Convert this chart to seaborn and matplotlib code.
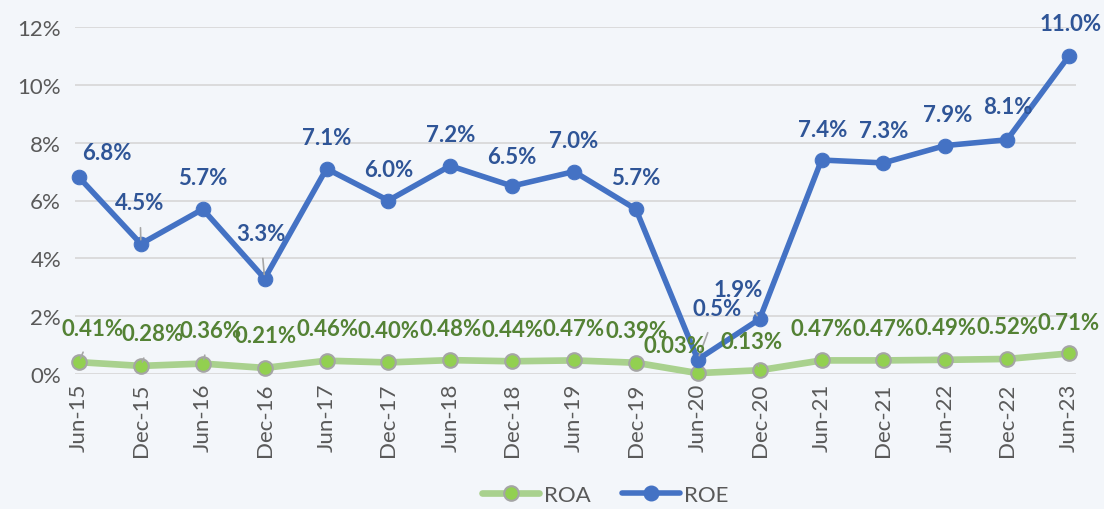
import matplotlib
matplotlib.use("Agg")
import numpy as np
import pandas as pd
import seaborn as sns
import matplotlib.pyplot as plt
from matplotlib.ticker import FuncFormatter
from matplotlib.lines import Line2D

# ---- data ----
periods = ["Jun-15", "Dec-15", "Jun-16", "Dec-16", "Jun-17", "Dec-17", "Jun-18",
           "Dec-18", "Jun-19", "Dec-19", "Jun-20", "Dec-20", "Jun-21", "Dec-21",
           "Jun-22", "Dec-22", "Jun-23"]
roe = [6.8, 4.5, 5.7, 3.3, 7.1, 6.0, 7.2, 6.5, 7.0, 5.7, 0.5, 1.9, 7.4, 7.3, 7.9, 8.1, 11.0]
roa = [0.41, 0.28, 0.36, 0.21, 0.46, 0.40, 0.48, 0.44, 0.47, 0.39, 0.03, 0.13,
       0.47, 0.47, 0.49, 0.52, 0.71]
y_ticks = [0, 2, 4, 6, 8, 10, 12]

# ---- label placement (pixel offsets from point, leader flag) ----
roe_off = [(28, 25, 0), (-1, 41, 1), (0, 32, 0), (-4, 45, 1), (0, 31, 0), (0, 31, 0),
           (0, 31, 0), (0, 30, 0), (0, 31, 0), (0, 32, 0), (19, 51, 1), (-21, 30, 1),
           (1, 31, 0), (0, 32, 0), (2, 31, 0), (1, 33, 0), (2, 32, 0)]
roa_off = [(14, 34, 1), (12, 32, 1), (8, 33, 1), (1, 32, 0), (1, 32, 0), (0, 32, 0),
           (0, 32, 0), (0, 32, 0), (0, 32, 0), (1, 32, 0), (-23, 28, 0), (-8, 29, 1),
           (0, 32, 0), (0, 32, 0), (0, 32, 0), (0, 32, 0), (0, 31, 0)]

BG = "#F3F6FA"
ROE_C = "#4472C4"
ROE_T = "#2F5597"
ROA_L = "#A9D18E"
ROA_M = "#92D050"
ROA_T = "#548235"
GRID = "#D9D9D9"
TICK = "#595959"

sns.set_theme(style="white")
plt.rcParams["font.family"] = ["Lato", "DejaVu Sans"]

df = pd.DataFrame({"x": np.arange(len(periods)), "period": periods,
                   "ROE": roe, "ROA": roa})

fig = plt.figure(figsize=(11.04, 5.10), dpi=100, facecolor=BG)
ax = fig.add_axes([75 / 1104, 1 - 375 / 510, (1076 - 75) / 1104, (375 - 28) / 510])
ax.set_facecolor(BG)

sns.lineplot(data=df, x="x", y="ROA", ax=ax, color=ROA_L, lw=4.8, marker="o",
             markersize=10.5, markerfacecolor=ROA_M, markeredgecolor="#A5A5A5",
             markeredgewidth=1.5, zorder=3, clip_on=False)
sns.lineplot(data=df, x="x", y="ROE", ax=ax, color=ROE_C, lw=4.0, marker="o",
             markersize=10.5, markerfacecolor=ROE_C, markeredgecolor=ROE_C,
             zorder=4, clip_on=False)

n = len(periods)
step = (1069 - 79) / 16.0
left = -(79 - 75) / step
right = (1076 - 79) / step
ax.set_xlim(left, right)
ax.set_ylim(0, 12)
ax.set_yticks(y_ticks)
ax.yaxis.set_major_formatter(FuncFormatter(lambda v, p: f"{v:.0f}%"))
ax.set_xticks(df["x"], periods, rotation=90)
ax.tick_params(axis="both", labelsize=16, colors=TICK, length=0)
ax.tick_params(axis="y", pad=10)
ax.tick_params(axis="x", pad=6)
ax.set_xlabel("")
ax.set_ylabel("")
ax.grid(axis="y", color=GRID, lw=1.3)
ax.set_axisbelow(True)
for s in ax.spines.values():
    s.set_visible(False)


def label(xv, yv, txt, off, color):
    dx, dy, lead = off
    kw = {}
    if lead:
        kw["arrowprops"] = dict(arrowstyle="-", color="#A6A6A6", lw=1.2,
                                shrinkA=8, shrinkB=3)
    ax.annotate(txt, xy=(xv, yv), xytext=(dx, dy), textcoords="offset pixels",
                ha="center", va="center", fontsize=16, fontweight="bold",
                color=color, zorder=6, annotation_clip=False, **kw)


for i in range(n):
    label(i, roe[i], f"{roe[i]:.1f}%", roe_off[i], ROE_T)
    label(i, roa[i], f"{roa[i]:.2f}%", roa_off[i], ROA_T)

handles = [
    Line2D([], [], color=ROA_L, lw=4.8, marker="o", markersize=10.5,
           markerfacecolor=ROA_M, markeredgecolor="#A5A5A5", markeredgewidth=1.5),
    Line2D([], [], color=ROE_C, lw=4.0, marker="o", markersize=10.5,
           markerfacecolor=ROE_C, markeredgecolor=ROE_C),
]
ax.legend(handles, ["ROA", "ROE"], loc="center", bbox_to_anchor=(605 / 1104, 1 - 496 / 510),
          bbox_transform=fig.transFigure, ncol=2, frameon=False, fontsize=16,
          handlelength=2.6, handletextpad=0.2, columnspacing=1.4, labelcolor=TICK)

fig.savefig("out.png", dpi=100, facecolor=BG)
